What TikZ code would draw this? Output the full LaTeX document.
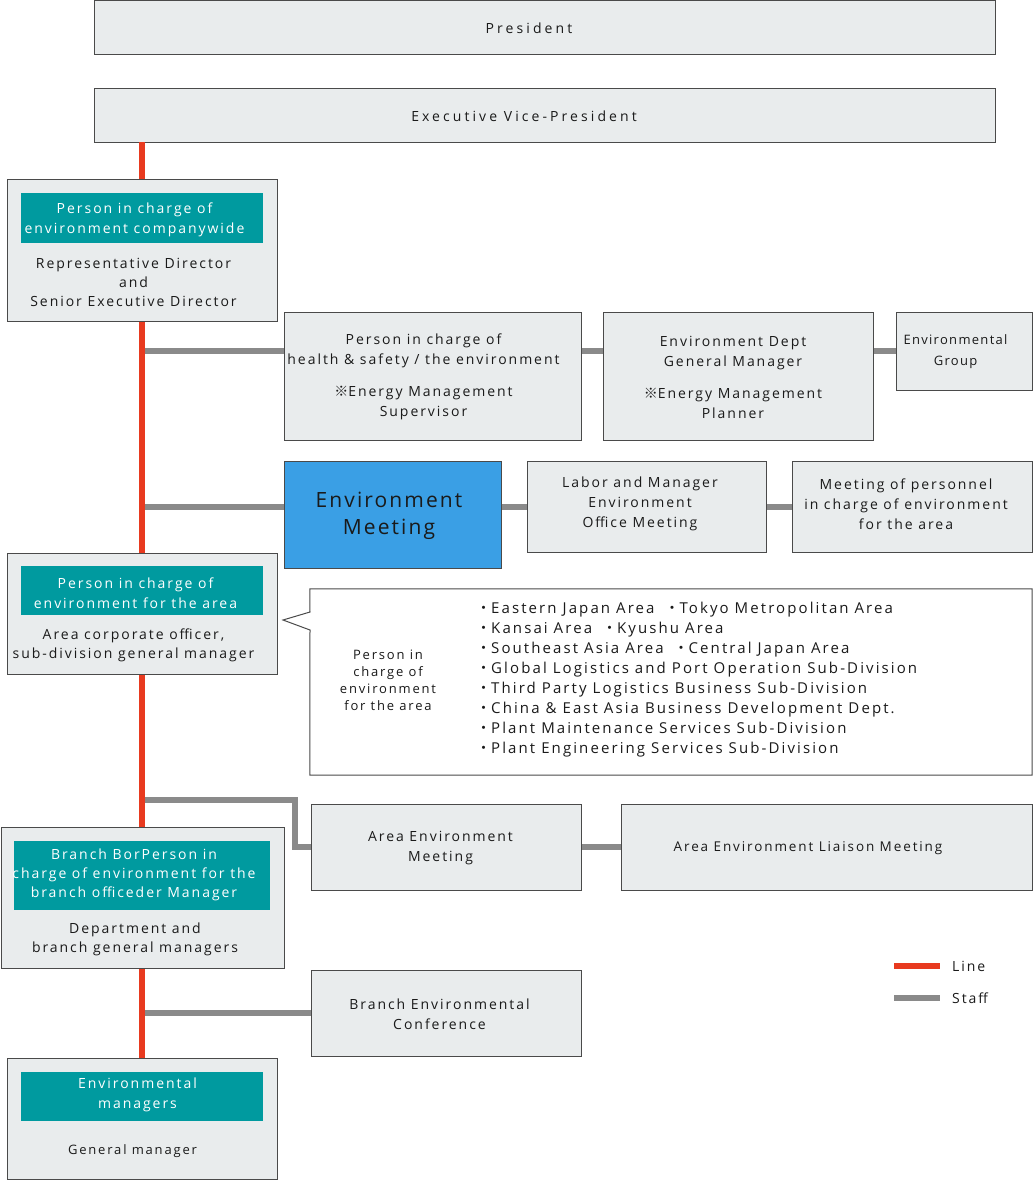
\documentclass[tikz,border=0pt]{standalone}
\usepackage{fontspec}
\setmainfont[LetterSpace=14]{Open Sans}
\newfontfamily\widefam[LetterSpace=22]{Open Sans}
\newfontfamily\midfam[LetterSpace=10]{Open Sans}
\newfontfamily\cjk{Noto Sans CJK JP}
\newcommand{\kome}{{\cjk ※}}
\newcommand{\nak}{{\cjk ・}}
\definecolor{boxfill}{HTML}{E9ECED}
\definecolor{boxline}{HTML}{4A4A4A}
\definecolor{tealc}{HTML}{009A9F}
\definecolor{bluec}{HTML}{3A9FE5}
\definecolor{redc}{HTML}{E83A1F}
\definecolor{grayc}{HTML}{8A8A8A}
\definecolor{txtc}{HTML}{1A1A1A}
\tikzset{
  box/.style={draw=boxline, fill=boxfill, line width=1pt, inner sep=0pt},
  tealbox/.style={fill=tealc, inner sep=0pt},
  txt/.style={inner sep=0pt, align=center, text=txtc, font=\fontsize{14}{20}\selectfont},
  wtxt/.style={txt, text=white},
  redline/.style={draw=redc, line width=6pt},
  staff/.style={draw=grayc, line width=6pt},
}
\begin{document}
\begin{tikzpicture}[x=1pt,y=-1pt]
\useasboundingbox (0,0) rectangle (1033,1181);
% top
\node[box, minimum width=901, minimum height=54] (pres) at (544.5,27) {};
\node[txt, font=\widefam\fontsize{14}{20}\selectfont] (presT) at (529,28) {President};
\node[box, minimum width=901, minimum height=54] (evp) at (544.5,115) {};
\node[txt, font=\widefam\fontsize{14}{20}\selectfont] (evpT) at (524,116) {Executive Vice-President};
% right-side boxes
\node[box, minimum width=297, minimum height=128] (hs) at (432.5,376) {};
\node[txt] (hsT) at (423.5,377) {Person in charge of\\health \& safety / the environment\\[12pt]\kome Energy Management\\Supervisor};
\node[box, minimum width=270, minimum height=128] (edgm) at (738,376) {};
\node[txt] (edgmT) at (733,377) {Environment Dept\\General Manager\\[12pt]\kome Energy Management\\Planner};
\node[box, minimum width=136, minimum height=78] (eg) at (964,351) {};
\node[txt, font=\midfam\fontsize{13}{21}\selectfont] (egT) at (955.5,351.5) {Environmental\\Group};
\node[box, fill=bluec, minimum width=217, minimum height=107] (em) at (392.5,514.5) {};
\node[txt, font=\midfam\fontsize{21}{27}\selectfont] (emT) at (389,516) {Environment\\Meeting};
\node[box, minimum width=239, minimum height=91] (lm) at (646.5,506.5) {};
\node[txt] (lmT) at (640,504) {Labor and Manager\\Environment\\Office Meeting};
\node[box, minimum width=240, minimum height=91] (mp) at (912,506.5) {};
\node[txt] (mpT) at (906,504) {Meeting of personnel\\in charge of environment\\for the area};
\node[box, minimum width=270, minimum height=86] (aem) at (446,847) {};
\node[txt] (aemT) at (440.5,848) {Area Environment\\Meeting};
\node[box, minimum width=411, minimum height=86] (ael) at (826.5,847) {};
\node[txt, font=\fontsize{13.5}{19}\selectfont] (aelT) at (808,848) {Area Environment Liaison Meeting};
\node[box, minimum width=270, minimum height=86] (bec) at (446,1013) {};
\node[txt] (becT) at (439.5,1014) {Branch Environmental\\Conference};
% staff connectors
\coordinate (ja) at (142,800);
\draw[staff] ([yshift=25pt]hs.west -| ja) -- ([yshift=25pt]hs.west);
\draw[staff] ([yshift=25pt]hs.east) -- ([yshift=25pt]edgm.west);
\draw[staff] ([yshift=25pt]edgm.east) -- (eg.west);
\draw[staff] ([yshift=7.5pt]em.west -| ja) -- ([yshift=7.5pt]em.west);
\draw[staff] (em.east |- lm.west) -- (lm.west);
\draw[staff] (lm.east) -- (mp.west);
\draw[staff] (ja) -- ++(153,0) |- (aem.west);
\draw[staff] (aem.east) -- (ael.west);
\draw[staff] (bec.west -| ja) -- (bec.west);
% red line
\draw[redline] (142,142) coordinate (jr0) -- (142,1058) coordinate (jr1);
% left boxes
\node[box, minimum width=270, minimum height=142] (b1) at (142,250) {};
\node[tealbox, minimum width=242, minimum height=50] (b1t) at (142,218) {};
\node[wtxt] (b1tT) at (134.5,220) {Person in charge of\\environment companywide};
\node[txt, font=\fontsize{14}{19}\selectfont] (b1s) at (133.5,282) {Representative Director\\and\\Senior Executive Director};
\node[box, minimum width=270, minimum height=121] (b2) at (142,613.5) {};
\node[tealbox, minimum width=242, minimum height=49] (b2t) at (142,590.5) {};
\node[wtxt] (b2tT) at (135.5,593) {Person in charge of\\environment for the area};
\node[txt, font=\fontsize{14}{19}\selectfont] (b2s) at (133.5,645.5) {Area corporate officer,\\sub-division general manager};
\node[box, minimum width=283, minimum height=141] (b3) at (142.5,897.5) {};
\node[tealbox, minimum width=256, minimum height=69] (b3t) at (142,875.5) {};
\node[wtxt, font=\fontsize{14}{19}\selectfont] (b3tT) at (134,875) {Branch BorPerson in\\charge of environment for the\\branch officeder Manager};
\node[txt, font=\fontsize{14}{19}\selectfont] (b3s) at (135,939.5) {Department and\\branch general managers};
\node[box, minimum width=270, minimum height=121] (b4) at (142,1118.5) {};
\node[tealbox, minimum width=242, minimum height=49] (b4t) at (142,1096.5) {};
\node[wtxt] (b4tT) at (137.5,1095) {Environmental\\managers};
\node[txt, font=\fontsize{13}{19}\selectfont] (b4s) at (132.5,1151) {General manager};
% callout
\node[minimum width=722, minimum height=186, inner sep=0pt] (call) at (671,682) {};
\draw[draw=boxline, fill=white, line width=1pt] (call.north west) -- (call.north east) -- (call.south east) -- (call.south west) -- (310,630) -- (283,620) -- (310,612) -- cycle;
\node[txt, font=\fontsize{13}{17}\selectfont] (callt) at (388,680.5) {Person in\\charge of\\environment\\for the area};
\node[txt, anchor=west, align=left, font=\fontsize{15}{20}\selectfont] (list) at (476,680) {%
\nak Eastern Japan Area\hspace{10pt}\nak Tokyo Metropolitan Area\\
\nak Kansai Area\hspace{10pt}\nak Kyushu Area\\
\nak Southeast Asia Area\hspace{10pt}\nak Central Japan Area\\
\nak Global Logistics and Port Operation Sub-Division\\
\nak Third Party Logistics Business Sub-Division\\
\nak China \& East Asia Business Development Dept.\\
\nak Plant Maintenance Services Sub-Division\\
\nak Plant Engineering Services Sub-Division};
% legend
\coordinate (lr) at (894,966);
\coordinate (lg) at (894,998);
\draw[redline] (lr) -- ++(46,0);
\draw[staff] (lg) -- ++(46,0);
\node[txt, anchor=west] (lrt) at (952,966) {Line};
\node[txt, anchor=west] (lgt) at (952,998) {Staff};
\end{tikzpicture}
\end{document}
